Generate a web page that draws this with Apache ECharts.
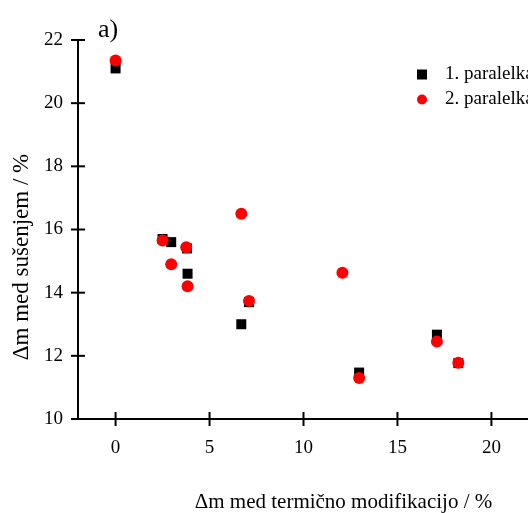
<!DOCTYPE html>
<html><head><meta charset="utf-8">
<script src="https://cdn.jsdelivr.net/npm/echarts@6/dist/echarts.min.js"></script>
<style>html,body{margin:0;padding:0;background:#fff}#c{width:528px;height:513px}</style>
</head><body><div id="c"></div>
<script>
const xTicks = [0, 5, 10, 15, 20];
const yTicks = [10, 12, 14, 16, 18, 20, 22];
const s1Name = '1. paralelka';
const s2Name = '2. paralelka';
const s1X = [0, 2.5, 2.96, 3.8, 3.83, 6.69, 7.1, 12.96, 17.1, 18.24];
const s1Y = [21.1, 15.7, 15.6, 15.4, 14.6, 13.0, 13.7, 11.47, 12.67, 11.77];
const s2X = [0, 2.5, 2.96, 3.76, 3.83, 6.69, 7.1, 12.07, 12.96, 17.1, 18.24];
const s2Y = [21.35, 15.65, 14.9, 15.44, 14.2, 16.5, 13.74, 14.63, 11.3, 12.45, 11.78];
const xName = 'Δm med termično modifikacijo / %';
const yName = 'Δm med sušenjem / %';
const titleText = 'a)';

const font = 'Liberation Serif';
const xMin = -2, xMax = 22, yMin = 10, yMax = 22;
const chart = echarts.init(document.getElementById('c'), null, {renderer: 'canvas'});
const pair = (xs, ys) => xs.map((x, i) => [x, ys[i]]);
// cross-through tick marks, positioned by the axes' own scales
const tickData = xTicks.map(v => [v, yMin, 0]).concat(yTicks.map(v => [xMin, v, 1]));
chart.setOption({
  animation: false,
  backgroundColor: '#fff',
  title: {text: titleText, left: 93, top: 12, textStyle: {fontFamily: font, fontSize: 26, fontWeight: 'normal', color: '#000'}},
  grid: {left: 78, right: -1, top: 40, bottom: 94, containLabel: false, outerBoundsMode: 'none'},
  legend: {
    orient: 'vertical', left: 412, top: 60, itemWidth: 10, itemHeight: 10, itemGap: 6,
    textStyle: {fontFamily: font, fontSize: 19, lineHeight: 19, color: '#000', padding: [0, 0, 0, 13]},
    data: [{name: s1Name, icon: 'rect'}, {name: s2Name, icon: 'circle'}]
  },
  xAxis: {
    type: 'value', min: xMin, max: xMax, interval: 1, position: 'bottom', splitLine: {show: false},
    name: xName, nameLocation: 'middle', nameGap: 73,
    nameTextStyle: {fontFamily: font, fontSize: 21, color: '#000', padding: [0, 0, 0, 80]},
    axisLine: {onZero: false, lineStyle: {color: '#000', width: 2}},
    axisTick: {show: false},
    axisLabel: {fontFamily: font, fontSize: 19, color: '#000', margin: 20, customValues: xTicks}
  },
  yAxis: {
    type: 'value', min: yMin, max: yMax, interval: 2, position: 'left', splitLine: {show: false},
    name: yName, nameLocation: 'middle', nameGap: 44, nameRotate: 90,
    nameTextStyle: {fontFamily: font, fontSize: 23, color: '#000', padding: [0, 55, 0, 0]},
    axisLine: {show: true, onZero: false, lineStyle: {color: '#000', width: 2}},
    axisTick: {show: false},
    axisLabel: {fontFamily: font, fontSize: 19, color: '#000', margin: 15, customValues: yTicks}
  },
  series: [
    {name: s1Name, type: 'scatter', symbol: 'rect', symbolSize: 10, itemStyle: {color: '#000', opacity: 1}, data: pair(s1X, s1Y), z: 2},
    {name: s2Name, type: 'scatter', symbol: 'circle', symbolSize: 12, itemStyle: {color: '#ff0000', opacity: 1}, data: pair(s2X, s2Y), z: 3},
    {
      name: 'ticks', type: 'custom', silent: true, clip: false, z: 5, data: tickData,
      renderItem: (params, api) => {
        const p = api.coord([api.value(0), api.value(1)]);
        const h = api.value(2) === 0;
        return {
          type: 'line',
          shape: h ? {x1: p[0], y1: p[1] - 7, x2: p[0], y2: p[1] + 7} : {x1: p[0] - 7, y1: p[1], x2: p[0] + 7, y2: p[1]},
          style: {stroke: '#000', lineWidth: 2}
        };
      }
    }
  ]
});
</script></body></html>
